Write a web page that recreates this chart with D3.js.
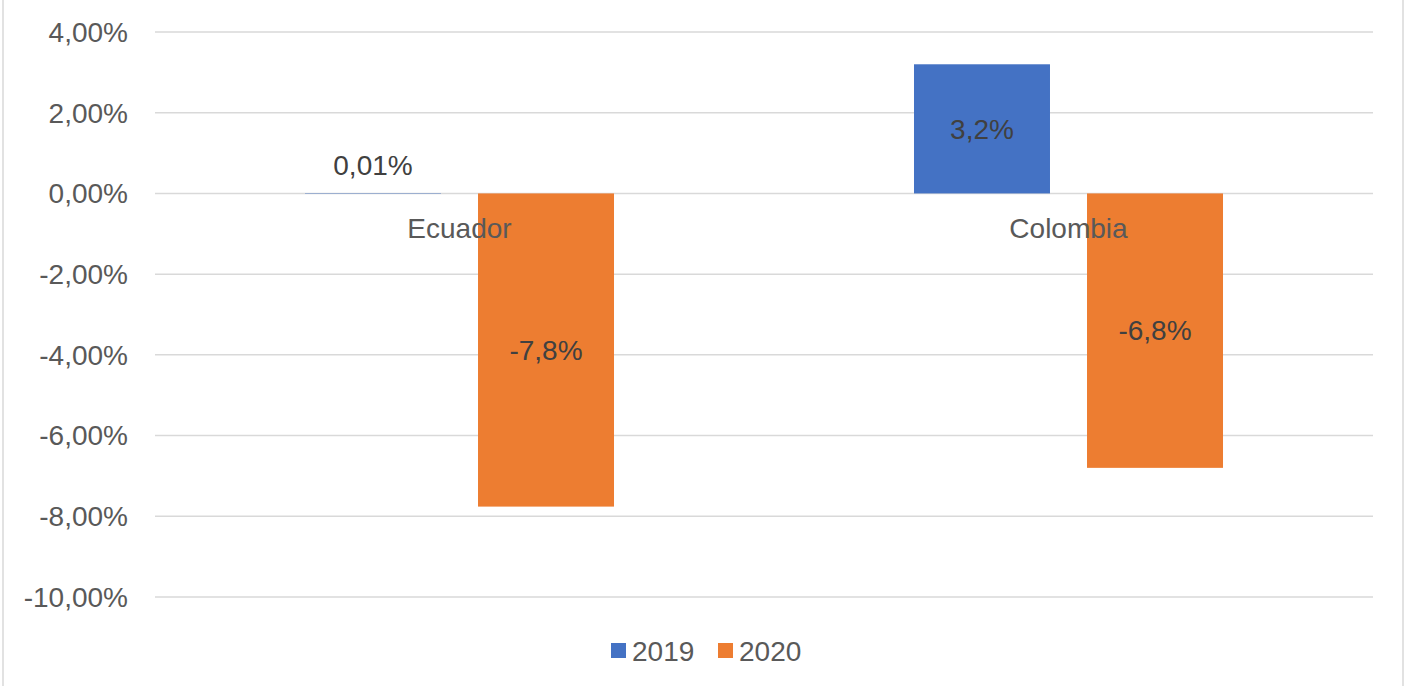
<!DOCTYPE html>
<html>
<head>
<meta charset="utf-8">
<script src="https://cdn.jsdelivr.net/npm/d3@7"></script>
<style>
  html, body { margin: 0; padding: 0; background: #fff; }
  svg { display: block; font-family: "Liberation Sans", Arial, sans-serif; }
</style>
</head>
<body>
<svg id="chart" width="1407" height="686"></svg>
<script>
// datos del grafico
const countries = ['Ecuador', 'Colombia'];
const years = ['2019', '2020'];
const values2019 = [0.0001, 0.032];
const values2020 = [-0.0776, -0.068];
const labels2019 = ['0,01%', '3,2%'];
const labels2020 = ['-7,8%', '-6,8%'];
const yTicks = [-0.10, -0.08, -0.06, -0.04, -0.02, 0, 0.02, 0.04];
const colors = ['#4472c4', '#ed7d31'];

const svg = d3.select('#chart');
const width = +svg.attr('width');
const height = +svg.attr('height');

// marco exterior
svg.append('rect')
  .attr('x', 3).attr('y', -2)
  .attr('width', 1400).attr('height', height + 4)
  .attr('fill', 'none')
  .attr('stroke', '#d9d9d9')
  .attr('stroke-width', 1.5);

const plot = { left: 155, right: 1373, top: 32, bottom: 597 };

const y = d3.scaleLinear().domain([-0.10, 0.04]).range([plot.bottom, plot.top]);

const x0 = d3.scaleBand()
  .domain(countries)
  .range([plot.left, plot.right])
  .paddingInner(0.4926)
  .paddingOuter(0.2463);

const x1 = d3.scaleBand()
  .domain(years)
  .range([0, x0.bandwidth()])
  .paddingInner(0.214);

// lineas de cuadricula
svg.append('g')
  .selectAll('line')
  .data(yTicks)
  .join('line')
  .attr('x1', plot.left).attr('x2', plot.right)
  .attr('y1', d => y(d)).attr('y2', d => y(d))
  .attr('stroke', '#d9d9d9')
  .attr('stroke-width', 1.5);

// etiquetas eje y (guion normal, coma decimal)
const fmt = d => d3.format('.2f')(d * 100).replace('\u2212', '-').replace('.', ',') + '%';
svg.append('g')
  .selectAll('text')
  .data(yTicks)
  .join('text')
  .attr('x', 128)
  .attr('y', d => y(d))
  .attr('dy', '0.35em')
  .attr('text-anchor', 'end')
  .attr('font-size', 28)
  .attr('fill', '#595959')
  .text(fmt);

// barras
const rows = countries.map((c, i) => ({
  country: c,
  bars: [
    { year: '2019', value: values2019[i], label: labels2019[i] },
    { year: '2020', value: values2020[i], label: labels2020[i] }
  ]
}));

const groups = svg.append('g')
  .selectAll('g')
  .data(rows)
  .join('g')
  .attr('transform', d => `translate(${x0(d.country)},0)`);

groups.selectAll('rect')
  .data(d => d.bars)
  .join('rect')
  .attr('x', d => x1(d.year))
  .attr('width', x1.bandwidth())
  .attr('y', d => y(Math.max(0, d.value)))
  .attr('height', d => Math.abs(y(d.value) - y(0)))
  .attr('fill', (d, i) => colors[i]);

// etiquetas de datos
groups.selectAll('text.val')
  .data(d => d.bars)
  .join('text')
  .attr('class', 'val')
  .attr('x', d => x1(d.year) + x1.bandwidth() / 2)
  .attr('y', d => {
    const h = Math.abs(y(d.value) - y(0));
    if (h < 40) return y(0) - 28; // no cabe dentro, va encima
    return (y(d.value) + y(0)) / 2;
  })
  .attr('dy', '0.35em')
  .attr('text-anchor', 'middle')
  .attr('font-size', 28)
  .attr('fill', '#404040')
  .text(d => d.label);

// etiquetas de categoria
svg.append('g')
  .selectAll('text')
  .data(countries)
  .join('text')
  .attr('x', d => x0(d) + x0.bandwidth() / 2)
  .attr('y', y(0) + 35)
  .attr('dy', '0.35em')
  .attr('text-anchor', 'middle')
  .attr('font-size', 28)
  .attr('fill', '#595959')
  .text(d => d);

// leyenda
const legend = svg.append('g');
const legendX = [611, 718];
years.forEach((yr, i) => {
  legend.append('rect')
    .attr('x', legendX[i]).attr('y', 643)
    .attr('width', 15).attr('height', 15)
    .attr('fill', colors[i]);
  legend.append('text')
    .attr('x', legendX[i] + 21)
    .attr('y', 651)
    .attr('dy', '0.35em')
    .attr('font-size', 28)
    .attr('fill', '#595959')
    .text(yr);
});
</script>
</body>
</html>
